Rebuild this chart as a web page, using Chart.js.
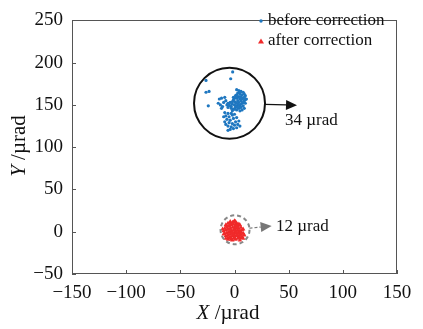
<!DOCTYPE html>
<html>
<head>
<meta charset="utf-8">
<script src="https://cdn.jsdelivr.net/npm/chart.js@4"></script>
<style>
  html, body { margin: 0; padding: 0; background: #fff; }
  #wrap { width: 423px; height: 329px; }
</style>
</head>
<body>
<div id="wrap"><canvas id="chart" width="423" height="329"></canvas></div>
<script>
// axis ticks
const xTicks = [-150, -100, -50, 0, 50, 100, 150];
const yTicks = [-50, 0, 50, 100, 150, 200, 250];

// before correction (x, y in µrad)
const beforeX = [-1.7, -3.5, -26.3, -23.5, -26.3, -24.2, -6,
  -14, -12, -9, -15, -13, -10, -8, -11, -7, -12,
  2, 4, 6, 8, 3, 5, 7, 9, 1, 4, 6, 10, 0, 2, 5, 8, 11, -1, 3, 6, 9, 1, 4, 7, 10,
  -2, 0, 3, 5, 8, -3, 1, 4, 6, 9, -1, 2, 5, 7, -4, -5, -3, -6, 0, 2, 6, 3, 7, 9,
  5, 2, 8, -2, 4, 1, -4, -6, -1, 10, 6, 3, -2, 0,
  -9, -6, -3, -8, -5, -2, 0, -7, -4, -1, 2, -9, -5, -2, 1, 4, -6, -3, 0, 3, 5,
  -4, -1, 2, -8, -10];
const beforeY = [189, 181, 179, 166, 165, 149, 120,
  157, 158, 159, 152, 150, 153, 155, 148, 150, 146,
  168, 167, 166, 165, 164, 163, 162, 163, 161, 160, 160, 161, 158, 158, 157, 158, 157, 156, 155, 155, 155, 153, 153, 152, 152,
  151, 150, 150, 149, 149, 148, 147, 146, 147, 146, 145, 144, 143, 144, 153, 150, 146, 147, 154, 152, 151, 159, 157, 159,
  165, 162, 153, 154, 150, 149, 149, 152, 159, 156, 158, 147, 143, 145,
  141, 140, 140, 137, 136, 138, 139, 133, 132, 134, 135, 130, 129, 128, 130, 131, 125, 124, 126, 127, 125,
  121, 122, 123, 127, 136];

// after correction (x, y in µrad)
const afterX = [-8, -6, -4, -2, 0, 2, -9, -7, -5, -3, -1, 1, 3, 5, -10, -8, -6, -4, -2, 0, 2, 4, 6,
  -9, -7, -5, -3, -1, 1, 3, 5, 7, -8, -6, -4, -2, 0, 2, 4, 6, 8, -6, -4, -2, 0, 2, 4, 6,
  -3, -1, 1, 3, 5, -7, -5, -3, -1, 1, 3, 5, 7, -1, 1, -11, -10, 8, -2, 0, 2, 4, -4, -6,
  0, -2, 2, -4, 6, 8, 9, -8];
const afterY = [8, 10, 12, 11, 13, 10, 4, 5, 7, 8, 9, 8, 7, 8, 1, 2, 3, 4, 5, 6, 5, 4, 5,
  -2, -1, 0, 1, 2, 1, 2, 1, 2, -5, -4, -3, -2, -1, -2, -1, -3, -2, -7, -6, -5, -4, -5, -6, -7,
  -9, -8, -9, -8, -10, 7, 3, -1, -3, 4, -4, -4, -6, 11, 12, 3, -3, -8, -10, -7, 7, 9, 9, -9,
  2, 0, 0, -8, 0, 3, -4, -8];

const seriesLabels = ['before correction', 'after correction'];
const blue = '#1f77c0';
const red = '#f02a2a';

const toPts = (xs, ys) => xs.map((v, i) => ({ x: v, y: ys[i] }));
const minus = v => String(v).replace('-', '\u2212');
const serif = "'Liberation Serif', 'DejaVu Serif', serif";

// circles, arrows and labels, placed in data units
const marks = {
  big: { cx: -4.6, cy: 152, r: 35.5, color: '#111', dash: [], width: 2 },
  small: { cx: 0.5, cy: 2.3, r: 14.5, color: '#888', dash: [4, 3], width: 2 },
  arrow1: { tx: 57.7, ty: 149.6, color: '#111', dash: [], text: '34 \u00b5rad', lx: 46.6, ly: 131 },
  arrow2: { tx: 34.3, ty: 6.9, color: '#777', dash: [3, 2], text: '12 \u00b5rad', lx: 38.3, ly: 5.8 }
};

function drawArrow(ctx, x0, y0, x1, y1, color, dash) {
  const ang = Math.atan2(y1 - y0, x1 - x0);
  const hl = 11, hw = 5;
  const bx = x1 - hl * Math.cos(ang), by = y1 - hl * Math.sin(ang);
  ctx.strokeStyle = color; ctx.fillStyle = color; ctx.lineWidth = 1.2;
  ctx.setLineDash(dash);
  ctx.beginPath(); ctx.moveTo(x0, y0); ctx.lineTo(bx, by); ctx.stroke();
  ctx.setLineDash([]);
  ctx.beginPath();
  ctx.moveTo(x1, y1);
  ctx.lineTo(bx - hw * Math.sin(ang), by + hw * Math.cos(ang));
  ctx.lineTo(bx + hw * Math.sin(ang), by - hw * Math.cos(ang));
  ctx.closePath(); ctx.fill();
}

const annotate = {
  id: 'annotate',
  afterDraw(chart) {
    const { ctx, chartArea: a, scales: { x, y } } = chart;
    ctx.save();
    // frame + inward ticks
    ctx.strokeStyle = '#555'; ctx.lineWidth = 1;
    ctx.strokeRect(Math.round(a.left) + 0.5, Math.round(a.top) + 0.5, Math.round(a.width) - 1, Math.round(a.height) - 1);
    ctx.beginPath();
    xTicks.forEach(v => {
      const px = Math.round(x.getPixelForValue(v)) + 0.5;
      ctx.moveTo(px, a.bottom); ctx.lineTo(px, a.bottom - 4);
    });
    yTicks.forEach(v => {
      const py = Math.round(y.getPixelForValue(v)) + 0.5;
      ctx.moveTo(a.left, py); ctx.lineTo(a.left + 4, py);
    });
    ctx.stroke();

    // circles
    [marks.big, marks.small].forEach(c => {
      ctx.strokeStyle = c.color; ctx.lineWidth = c.width; ctx.setLineDash(c.dash);
      ctx.beginPath();
      ctx.arc(x.getPixelForValue(c.cx), y.getPixelForValue(c.cy), c.r, 0, Math.PI * 2);
      ctx.stroke();
    });
    ctx.setLineDash([]);

    // arrows from circle edge
    [[marks.big, marks.arrow1], [marks.small, marks.arrow2]].forEach(([c, ar]) => {
      const cx = x.getPixelForValue(c.cx), cy = y.getPixelForValue(c.cy);
      const tx = x.getPixelForValue(ar.tx), ty = y.getPixelForValue(ar.ty);
      const ang = Math.atan2(ty - cy, tx - cx);
      drawArrow(ctx, cx + c.r * Math.cos(ang), cy + c.r * Math.sin(ang), tx, ty, ar.color, ar.dash);
      ctx.fillStyle = '#111'; ctx.font = '17px ' + serif;
      ctx.textAlign = 'left'; ctx.textBaseline = 'middle';
      ctx.fillText(ar.text, x.getPixelForValue(ar.lx), y.getPixelForValue(ar.ly));
    });

    // legend
    ctx.font = '17px ' + serif; ctx.textAlign = 'left'; ctx.textBaseline = 'middle';
    ctx.fillStyle = blue;
    ctx.beginPath(); ctx.arc(261, 21, 1.7, 0, Math.PI * 2); ctx.fill();
    ctx.fillStyle = red;
    ctx.beginPath(); ctx.moveTo(261, 38.5); ctx.lineTo(264, 43.5); ctx.lineTo(258, 43.5); ctx.closePath(); ctx.fill();
    ctx.fillStyle = '#111';
    ctx.fillText(seriesLabels[0], 268, 21);
    ctx.fillText(seriesLabels[1], 268, 41);

    // axis titles: italic letter + upright unit
    const tsize = 21;
    ctx.font = 'italic ' + tsize + 'px ' + serif;
    const xa = 'X', ua = ' /\u00b5rad';
    const wX = ctx.measureText(xa).width;
    ctx.font = tsize + 'px ' + serif;
    const wU = ctx.measureText(ua).width;
    const midX = 228;
    let sx = midX - (wX + wU) / 2;
    ctx.textBaseline = 'middle';
    ctx.font = 'italic ' + tsize + 'px ' + serif; ctx.fillText(xa, sx, 313);
    ctx.font = tsize + 'px ' + serif; ctx.fillText(ua, sx + wX, 313);

    ctx.translate(19, 146);
    ctx.rotate(-Math.PI / 2);
    ctx.font = 'italic ' + tsize + 'px ' + serif;
    const wY = ctx.measureText('Y').width;
    sx = -(wY + wU) / 2;
    ctx.fillText('Y', sx, 0);
    ctx.font = tsize + 'px ' + serif; ctx.fillText(ua, sx + wY, 0);
    ctx.restore();
  }
};

new Chart(document.getElementById('chart'), {
  type: 'scatter',
  data: {
    datasets: [
      { label: seriesLabels[0], data: toPts(beforeX, beforeY), backgroundColor: blue, borderWidth: 0, pointRadius: 1.6 },
      { label: seriesLabels[1], data: toPts(afterX, afterY), backgroundColor: red, borderWidth: 0, pointRadius: 2.6, pointStyle: 'triangle' }
    ]
  },
  options: {
    responsive: false,
    animation: false,
    layout: { padding: { top: 15, right: 26, left: 0, bottom: 0 } },
    plugins: { legend: { display: false }, tooltip: { enabled: false } },
    scales: {
      x: {
        type: 'linear', min: -150, max: 150,
        afterBuildTicks: s => { s.ticks = xTicks.map(v => ({ value: v })); },
        afterFit: s => { s.height = 55; },
        grid: { display: false, drawTicks: false }, border: { display: false },
        ticks: { color: '#111', padding: 8, maxRotation: 0, font: { family: serif, size: 19 }, callback: v => minus(v) }
      },
      y: {
        type: 'linear', min: -50, max: 250,
        afterBuildTicks: s => { s.ticks = yTicks.map(v => ({ value: v })); },
        afterFit: s => { s.width = 72; },
        grid: { display: false, drawTicks: false }, border: { display: false },
        ticks: { color: '#111', padding: 9, font: { family: serif, size: 19 }, callback: v => minus(v) }
      }
    }
  },
  plugins: [annotate]
});
</script>
</body>
</html>
